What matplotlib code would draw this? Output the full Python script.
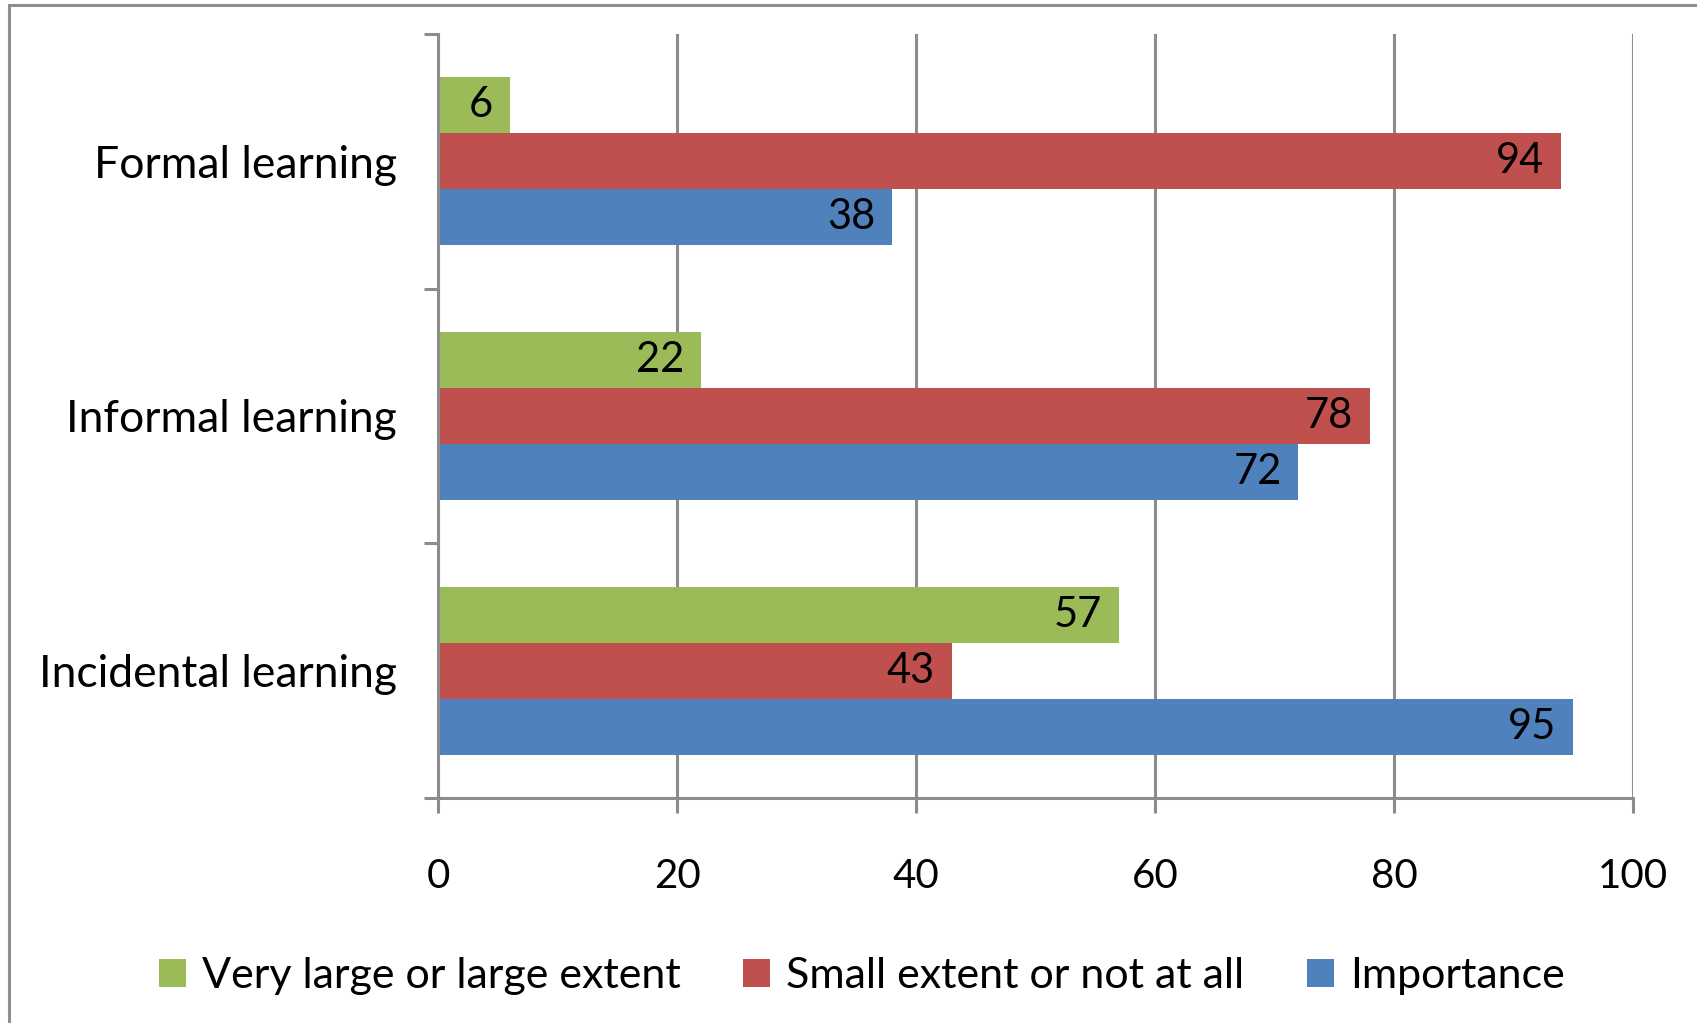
import numpy as np
from matplotlib import pyplot as plt
from matplotlib.patches import Rectangle

categories = ['Formal learning', 'Informal learning', 'Incidental learning']
series_names = ['Very large or large extent', 'Small extent or not at all', 'Importance']
very_large = [6, 22, 57]
small_extent = [94, 78, 43]
importance = [38, 72, 95]
x_ticks = [0, 20, 40, 60, 80, 100]

colors = ['#9BBB59', '#C0504D', '#4F81BD']
grey = '#8C8C8C'

plt.rcParams['font.family'] = ['Lato', 'DejaVu Sans']

figure = plt.figure(figsize=(16.97, 10.23), dpi=100)
axes = figure.add_axes([438 / 1697, 1 - 798 / 1023, (1633 - 438) / 1697, (798 - 34) / 1023])

# outer chart border (only top and left edges fall inside the image)
figure.patches.append(Rectangle((9 / 1697, -0.1), 1.2, 1 - 5 / 1023 + 0.1,
                                transform=figure.transFigure, fill=False,
                                edgecolor='#8E8E8E', linewidth=2.2, zorder=0))

y = np.arange(len(categories))
h = 0.22
offsets = [-h, 0, h]
for values, off, color, name in zip([very_large, small_extent, importance], offsets, colors, series_names):
    bars = axes.barh(y + off, values, height=h, color=color, label=name, zorder=3)
    for bar, v in zip(bars, values):
        axes.text(v - 1.4, bar.get_y() + h / 2, str(v), ha='right', va='center',
                  fontsize=30, color='black', zorder=4)

axes.set_xlim(0, 100)
axes.set_ylim(2.5, -0.5)
axes.set_xticks(x_ticks)
axes.set_xticklabels([str(t) for t in x_ticks], fontsize=29)
axes.set_yticks(y)
axes.set_yticklabels(categories, fontsize=32)
axes.set_yticks([-0.5, 0.5, 1.5, 2.5], minor=True)

axes.tick_params(axis='y', which='major', length=0, pad=29.5)
axes.tick_params(axis='y', which='minor', length=10, width=2.2, color=grey, direction='out')
axes.tick_params(axis='x', length=10.5, width=2.2, color=grey, direction='out', pad=33)

axes.grid(axis='x', color=grey, linewidth=2.2, zorder=0)
axes.set_axisbelow(True)
for side in ['top', 'right']:
    axes.spines[side].set_visible(False)
for side in ['left', 'bottom']:
    axes.spines[side].set_color(grey)
    axes.spines[side].set_linewidth(2.2)
    axes.spines[side].set_zorder(5)

handles, labels = axes.get_legend_handles_labels()
figure.legend(handles, labels, loc='center', bbox_to_anchor=(862 / 1697, 1 - 976 / 1023),
              ncol=3, frameon=False, fontsize=31, handlelength=0.62, handleheight=0.62,
              handletextpad=0.38, columnspacing=1.45)

figure.savefig('out.png', dpi=100)
